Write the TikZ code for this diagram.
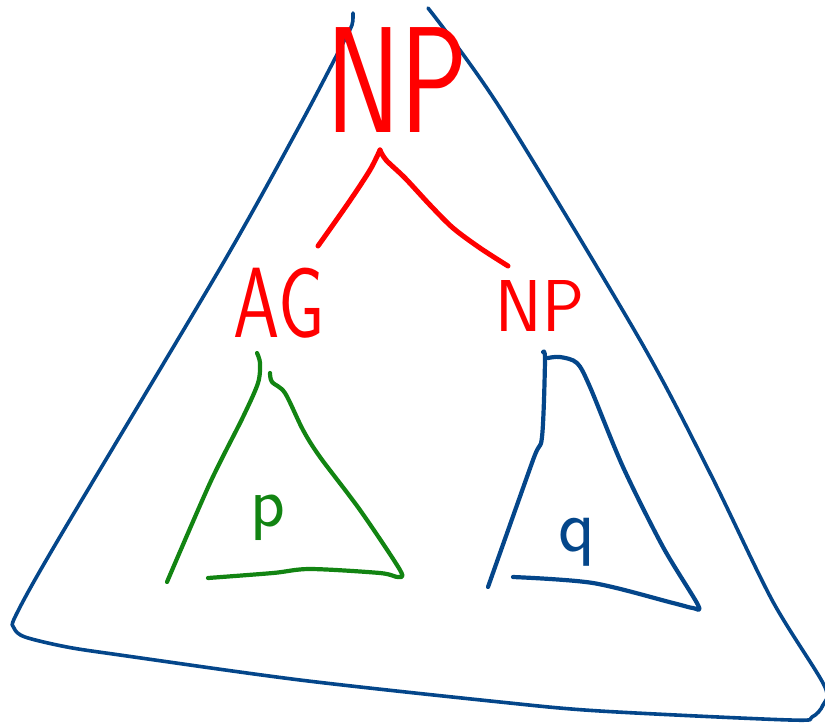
\documentclass[tikz,border=0pt]{standalone}
\usepackage{fontspec}
\definecolor{hblue}{RGB}{4,70,138}
\definecolor{hred}{RGB}{255,0,0}
\definecolor{hgreen}{RGB}{18,132,18}
\begin{document}
\begin{tikzpicture}[x=1pt,y=-1pt,line cap=round,line join=round,
  bigtri/.style={draw=hblue,line width=3.6pt},
  redstroke/.style={draw=hred,line width=5pt},
  greentri/.style={draw=hgreen,line width=4.2pt},
  bluetri/.style={draw=hblue,line width=4.2pt},
  lbl/.style={inner sep=0pt,font=\sffamily}]
\useasboundingbox (0,0) rectangle (825,726);
% big outer triangle
\draw[bigtri] plot[smooth,tension=0.5] coordinates {(353,13) (352,25) (343,43) (300,125) (222,265) (58,540) (16,615) (14,628) (25,637) (67,647) (120,655) (300,680) (500,702) (600,711) (790,720) (812,717) (823,705) (824,685) (772,600) (710,473) (640,340) (500,108) (428,8)};
% red branches
\draw[redstroke] plot[smooth,tension=0.5] coordinates {(318,246) (349,202) (370,170) (380,150)};
\draw[redstroke] plot[smooth,tension=0.5] coordinates {(380,150) (386,160) (405,178) (430,205) (453,228) (480,248) (508,266)};
% green sub-triangle
\draw[greentri] plot[smooth,tension=0.5] coordinates {(257,353) (260,363) (258,383) (243,417) (210,483) (167,582)};
\draw[greentri] plot[smooth,tension=0.5] coordinates {(270,373) (272,382) (285,393) (303,430) (320,457) (360,510) (400,570) (398,577) (380,573) (310,569) (273,573) (208,578)};
% blue sub-triangle
\draw[bluetri] plot[smooth,tension=0.5] coordinates {(543,352) (545,360) (542,437) (533,460) (488,587)};
\draw[bluetri] plot[smooth,tension=0.5] coordinates {(548,358) (560,357) (577,363) (590,387) (623,467) (663,547) (698,605) (693,608) (673,603) (593,583) (513,577)};
% labels
\node[lbl,text=hred] (top) at (397,80) {\scalebox{1}[1.35]{\fontsize{112}{112}\selectfont NP}};
\node[lbl,text=hred] (ag) at (279,303) {\scalebox{1}[1.35]{\fontsize{74}{74}\selectfont AG}};
\node[lbl,text=hred] (np) at (540,306) {\scalebox{1}[1.05]{\fontsize{70}{70}\selectfont NP}};
\node[lbl,text=hgreen] (p) at (268,518) {\fontsize{72}{72}\selectfont p};
\node[lbl,text=hblue] (q) at (577,542) {\fontsize{76}{76}\selectfont q};
\end{tikzpicture}
\end{document}
